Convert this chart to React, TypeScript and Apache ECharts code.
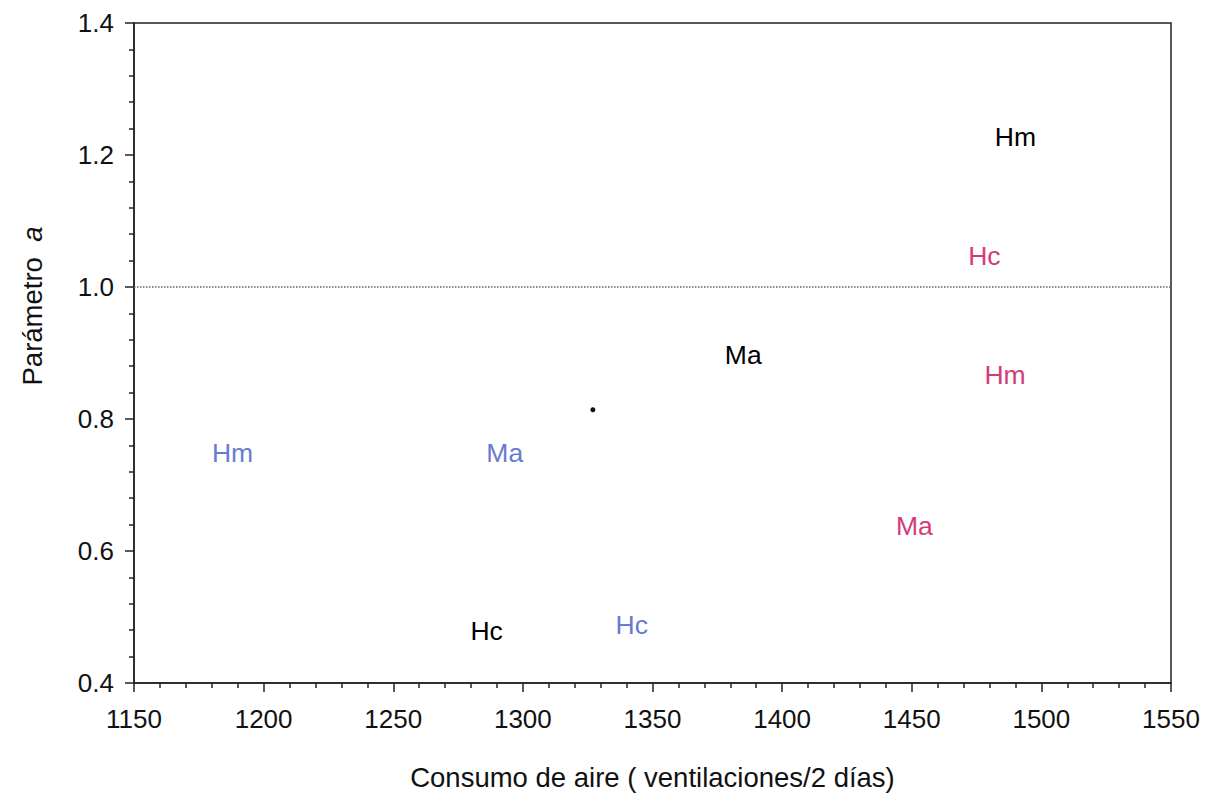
import React, { useEffect, useRef } from "react";
import * as echarts from "echarts";

// Tick labels and axis ranges
const xTicks = [1150, 1200, 1250, 1300, 1350, 1400, 1450, 1500, 1550];
const yTicks = [0.4, 0.6, 0.8, 1.0, 1.2, 1.4];

// Groups of labelled points: [label, air consumption, parameter a]
const blackPoints: [string, number, number][] = [
  ["Hm", 1490, 1.227],
  ["Ma", 1385, 0.897],
  ["Hc", 1286, 0.479],
];
const bluePoints: [string, number, number][] = [
  ["Hm", 1188, 0.748],
  ["Ma", 1293, 0.748],
  ["Hc", 1342, 0.488],
];
const pinkPoints: [string, number, number][] = [
  ["Hc", 1478, 1.047],
  ["Hm", 1486, 0.867],
  ["Ma", 1451, 0.638],
];
// Single plotted dot
const dotPoints: [number, number][] = [[1327, 0.814]];
// Reference level
const referenceLevel = 1.0;

const FONT = "Liberation Sans, Arial, sans-serif";

function labelSeries(points: [string, number, number][], color: string, name: string) {
  return {
    name,
    type: "scatter",
    symbol: "circle",
    symbolSize: 1,
    itemStyle: { color: "rgba(0,0,0,0)", opacity: 1 },
    data: points.map(([t, x, y]) => ({ name: t, value: [x, y] })),
    label: {
      show: true,
      position: "inside",
      formatter: "{b}",
      color,
      fontSize: 26.5,
      fontFamily: FONT,
    },
    labelLayout: { hideOverlap: false },
    silent: true,
  };
}

export default function App() {
  const ref = useRef<HTMLDivElement>(null);

  useEffect(() => {
    if (!ref.current) return;
    const chart = echarts.init(ref.current, undefined, { renderer: "svg" });
    chart.setOption({
      animation: false,
      backgroundColor: "#ffffff",
      grid: {
        left: 134,
        right: 44,
        top: 23,
        bottom: 124,
        show: true,
        borderColor: "#222",
        borderWidth: 1.5,
        backgroundColor: "transparent",
      },
      xAxis: {
        type: "value",
        min: xTicks[0],
        max: xTicks[xTicks.length - 1],
        interval: 50,
        name: "Consumo de aire ( ventilaciones/2 días)",
        nameLocation: "middle",
        nameGap: 80,
        nameTextStyle: { fontSize: 27.5, fontFamily: FONT, color: "#111" },
        axisLine: { lineStyle: { color: "#222", width: 1.5 } },
        axisTick: { show: true, inside: false, length: 9, lineStyle: { color: "#222", width: 1.5 } },
        minorTick: { show: true, splitNumber: 5, length: 5, lineStyle: { color: "#222", width: 1.5 } },
        axisLabel: {
          fontSize: 26,
          fontFamily: FONT,
          color: "#111",
          margin: 23,
          formatter: (v: number) => String(v),
        },
        splitLine: { show: false },
      },
      yAxis: {
        type: "value",
        min: yTicks[0],
        max: yTicks[yTicks.length - 1],
        interval: 0.2,
        axisLine: { lineStyle: { color: "#222", width: 1.5 } },
        axisTick: { show: true, inside: false, length: 9, lineStyle: { color: "#222", width: 1.5 } },
        minorTick: { show: true, splitNumber: 5, length: 5, lineStyle: { color: "#222", width: 1.5 } },
        axisLabel: {
          fontSize: 26,
          fontFamily: FONT,
          color: "#111",
          margin: 20,
          formatter: (v: number) => v.toFixed(1),
        },
        splitLine: { show: false },
      },
      graphic: [
        {
          type: "text",
          x: 32,
          y: 306,
          rotation: Math.PI / 2,
          style: {
            text: "{n|Parámetro}  {i|a}",
            rich: {
              n: { fontSize: 27.5, fontFamily: FONT, fill: "#111" },
              i: { fontSize: 27.5, fontFamily: FONT, fill: "#111", fontStyle: "italic" },
            },
            font: `27.5px ${FONT}`,
            fill: "#111",
            align: "center",
            verticalAlign: "middle",
          },
        },
      ],
      series: [
        {
          name: "ref",
          type: "scatter",
          data: dotPoints,
          symbol: "circle",
          symbolSize: 5,
          itemStyle: { color: "#111", opacity: 1 },
          silent: true,
          markLine: {
            silent: true,
            symbol: "none",
            label: { show: false },
            lineStyle: { type: "dotted", color: "#666", width: 1.5 },
            data: [{ yAxis: referenceLevel }],
          },
        },
        labelSeries(blackPoints, "#000000", "black"),
        labelSeries(bluePoints, "#6a7ad2", "blue"),
        labelSeries(pinkPoints, "#d23c7c", "pink"),
      ],
    });
    return () => chart.dispose();
  }, []);

  return (
    <div
      ref={ref}
      style={{ position: "absolute", left: 0, top: 0, width: 1215, height: 807 }}
    />
  );
}
